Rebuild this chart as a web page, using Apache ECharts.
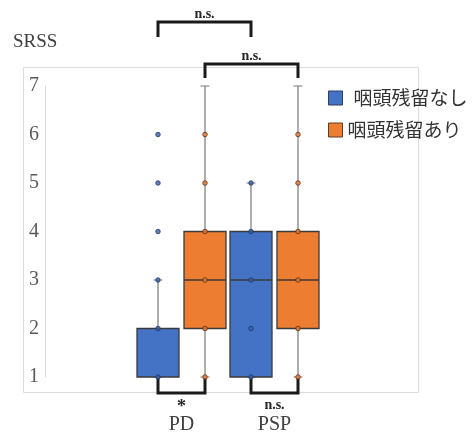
<!DOCTYPE html>
<html><head><meta charset="utf-8">
<script src="https://cdn.jsdelivr.net/npm/echarts@6/dist/echarts.min.js"></script>
<style>html,body{margin:0;padding:0;background:#fff}#c{width:472px;height:435px}</style>
</head><body><div id="c"></div>
<script>
// ---- data ----
const categories = ['PD', 'PSP'];
const seriesNames = ['咽頭残留なし', '咽頭残留あり'];
// [min, Q1, median, Q3, max] per category
const boxNoResidue = [[1, 1, 1, 2, 3], [1, 1, 3, 4, 5]];
const boxResidue = [[1, 2, 3, 4, 7], [1, 2, 3, 4, 7]];
// individual points shown per category
const pointsNoResidue = [[1, 2, 3, 4, 5, 6], [1, 2, 3, 4, 5]];
const pointsResidue = [[1, 2, 3, 4, 5, 6], [1, 2, 3, 4, 5, 6]];
const yMin = 1, yMax = 7, yInterval = 1;
const yTitle = 'SRSS';
// significance annotations: [seriesA, catA, seriesB, catB, label]
const sigTop = [[0, 0, 0, 1, 'n.s.'], [1, 0, 1, 1, 'n.s.']];
const sigBottom = [[0, 0, 1, 0, '*'], [0, 1, 1, 1, 'n.s.']];

const colors = ['#4472C4', '#ED7D31'];
const pointFills = ['#3A5FA8', '#ED7D31'];
const pointBorders = ['#1F3864', '#5a2a10'];
const serif = '"Liberation Serif","DejaVu Serif",serif';
const cjk = '"Noto Sans CJK JP","Noto Sans CJK SC",sans-serif';

const chart = echarts.init(document.getElementById('c'), null, {renderer: 'canvas'});

const gridTop = 86, gridBottom = 58, bandW = 93, gridW = bandW * 2;
const mainLeft = 135, boxOffset = 23.5;
const offs = [-boxOffset, boxOffset];
// grids: 0,1 boxes; 2,3 whiskers; 4 main axes
const grids = [0, 1, 0, 1].map(s => ({left: mainLeft + offs[s], top: gridTop, bottom: gridBottom, width: gridW}));
grids.push({left: mainLeft, top: gridTop, bottom: gridBottom, width: gridW});
const hiddenX = i => ({type: 'category', gridIndex: i, data: categories, show: false, boundaryGap: true});
const hiddenY = i => ({type: 'value', gridIndex: i, min: yMin, max: yMax, interval: yInterval, show: false});

const boxes = [boxNoResidue, boxResidue];
const pts = [pointsNoResidue, pointsResidue];
const series = [];
for (let s = 0; s < 2; s++) {
  series.push({
    type: 'boxplot', name: seriesNames[s], xAxisIndex: s, yAxisIndex: s,
    data: boxes[s].map(b => [b[1], b[1], b[2], b[3], b[3]]),
    boxWidth: [42, 42], z: 4, silent: true,
    itemStyle: {color: colors[s], borderColor: '#3a3a3a', borderWidth: 1.3},
    emphasis: {disabled: true}
  });
}
for (let s = 0; s < 2; s++) {
  series.push({
    type: 'boxplot', name: 'whisker' + s, xAxisIndex: 2 + s, yAxisIndex: 2 + s,
    data: boxes[s].map(b => [b[0], b[2], b[2], b[2], b[4]]),
    boxWidth: [9, 9], z: 2, silent: true,
    itemStyle: {color: 'rgba(0,0,0,0)', borderColor: '#7a7a7a', borderWidth: 1.2},
    emphasis: {disabled: true}
  });
  const d = [];
  pts[s].forEach((arr, ci) => arr.forEach(v => d.push([ci, v])));
  series.push({
    type: 'scatter', name: 'points' + s, xAxisIndex: s, yAxisIndex: s,
    data: d, symbol: 'circle', symbolSize: 4.5, z: 6, silent: true,
    itemStyle: {color: pointFills[s], borderColor: pointBorders[s], borderWidth: 1},
    emphasis: {disabled: true}
  });
}

chart.setOption({
  animation: false,
  grid: grids,
  xAxis: [hiddenX(0), hiddenX(1), hiddenX(2), hiddenX(3), {
    type: 'category', gridIndex: 4, data: categories, boundaryGap: true,
    axisLine: {show: false}, axisTick: {show: false},
    axisLabel: {fontFamily: serif, fontSize: 20, color: '#404040', margin: 38}
  }],
  yAxis: [hiddenY(0), hiddenY(1), hiddenY(2), hiddenY(3), {
    type: 'value', gridIndex: 4, min: yMin, max: yMax, interval: yInterval, offset: 90,
    axisLine: {show: true, lineStyle: {color: '#d9d9d9', width: 1}},
    axisTick: {show: false}, splitLine: {show: false},
    axisLabel: {fontFamily: serif, fontSize: 20, color: '#595959', margin: 6}
  }],
  legend: {
    orient: 'vertical', left: 323, top: 83, itemWidth: 14, itemHeight: 14, itemGap: 12,
    icon: 'rect', selectedMode: false,
    textStyle: {fontFamily: cjk, fontSize: 19, color: '#333', lineHeight: 20},
    data: [
      {name: seriesNames[0], itemStyle: {color: colors[0], borderColor: '#2f3f5f', borderWidth: 1},
       textStyle: {padding: [0, 0, 0, 6]}},
      {name: seriesNames[1], itemStyle: {color: colors[1], borderColor: '#5a3a2a', borderWidth: 1}}
    ]
  },
  series: series
});

// annotations (positions derived from the axes)
const px = (s, ci, v) => chart.convertToPixel({gridIndex: s}, [ci, v]);
const g = [];
g.push({type: 'rect', shape: {x: 23.5, y: 67.5, width: 395, height: 325}, style: {fill: 'none', stroke: '#dcdcdc', lineWidth: 1}, z: -1, silent: true});
g.push({type: 'text', left: 13, top: 33, style: {text: yTitle, font: '19px ' + serif, fill: '#404040'}, silent: true});
const topLevels = [[22, 37, 14], [64, 78, 56]];
const labelFont = t => (t === '*' ? 'bold 18px ' : 'bold 14px ') + serif;
sigTop.forEach((b, i) => {
  const a = px(b[0], b[1], yMax), c = px(b[2], b[3], yMax);
  const [yh, yl, ty] = topLevels[i];
  g.push({type: 'polyline', shape: {points: [[a[0], yl], [a[0], yh], [c[0], yh], [c[0], yl]]},
    style: {stroke: '#1a1a1a', lineWidth: 3, fill: 'none', lineJoin: 'miter'}, silent: true});
  g.push({type: 'text', x: (a[0] + c[0]) / 2, y: ty, style: {text: b[4], font: labelFont(b[4]), fill: '#262626', align: 'center', verticalAlign: 'middle'}, silent: true});
});
sigBottom.forEach(b => {
  const a = px(b[0], b[1], yMin), c = px(b[2], b[3], yMin);
  const y0 = a[1] + 1, y1 = a[1] + 16;
  g.push({type: 'polyline', shape: {points: [[a[0], y0], [a[0], y1], [c[0], y1], [c[0], y0]]},
    style: {stroke: '#1a1a1a', lineWidth: 3, fill: 'none', lineJoin: 'miter'}, silent: true});
  g.push({type: 'text', x: (a[0] + c[0]) / 2, y: y1 + (b[4] === '*' ? 14 : 12), style: {text: b[4], font: labelFont(b[4]), fill: '#262626', align: 'center', verticalAlign: 'middle'}, silent: true});
});
chart.setOption({graphic: g});
</script>
</body></html>
